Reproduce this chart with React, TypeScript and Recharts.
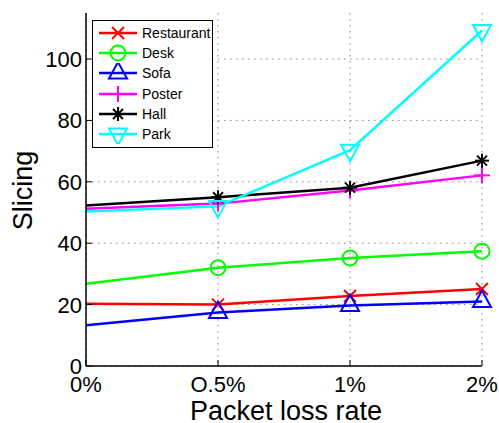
import { LineChart, Line, XAxis, YAxis, CartesianGrid, Legend } from 'recharts';

const lossRates = [0, 1, 2, 3];
const rateLabels = ['0%', 'O.5%', '1%', '2%'];
const restaurant = [20.3, 20, 22.8, 25.1];
const desk = [26.8, 32, 35.2, 37.4];
const sofa = [13.3, 17.4, 19.7, 21];
const poster = [51.2, 52.9, 57.2, 62.1];
const hall = [52.3, 55, 58.1, 66.9];
const park = [50.3, 52, 70.3, 109.3];
const yTicks = [0, 20, 40, 60, 80, 100];

const series = [
  { key: 'Restaurant', values: restaurant, color: '#ff0000', marker: 'x' },
  { key: 'Desk', values: desk, color: '#00ff00', marker: 'o' },
  { key: 'Sofa', values: sofa, color: '#0000ff', marker: '^' },
  { key: 'Poster', values: poster, color: '#ff00ff', marker: '+' },
  { key: 'Hall', values: hall, color: '#000000', marker: '*' },
  { key: 'Park', values: park, color: '#00ffff', marker: 'v' },
];

const data = lossRates.map((x, i) => {
  const row: any = { x };
  series.forEach((s) => (row[s.key] = s.values[i]));
  return row;
});

const FONT = 'Arial, "Liberation Sans", Helvetica, sans-serif';

function Marker({ type, cx, cy, color }: { type: string; cx: number; cy: number; color: string }) {
  const sw = 2;
  switch (type) {
    case 'x':
      return (
        <g stroke={color} strokeWidth={sw}>
          <line x1={cx - 6} y1={cy - 6} x2={cx + 6} y2={cy + 6} />
          <line x1={cx - 6} y1={cy + 6} x2={cx + 6} y2={cy - 6} />
        </g>
      );
    case 'o':
      return <circle cx={cx} cy={cy} r={7.5} fill="none" stroke={color} strokeWidth={sw} />;
    case '^':
      return (
        <polygon
          points={`${cx},${cy - 11} ${cx + 9},${cy + 5.5} ${cx - 9},${cy + 5.5}`}
          fill="none"
          stroke={color}
          strokeWidth={sw}
        />
      );
    case 'v':
      return (
        <polygon
          points={`${cx},${cy + 11} ${cx + 9},${cy - 5.5} ${cx - 9},${cy - 5.5}`}
          fill="none"
          stroke={color}
          strokeWidth={sw}
        />
      );
    case '+':
      return (
        <g stroke={color} strokeWidth={sw}>
          <line x1={cx - 8} y1={cy} x2={cx + 8} y2={cy} />
          <line x1={cx} y1={cy - 8} x2={cx} y2={cy + 8} />
        </g>
      );
    case '*':
    default:
      return (
        <g stroke={color} strokeWidth={sw}>
          <line x1={cx - 7} y1={cy} x2={cx + 7} y2={cy} />
          <line x1={cx} y1={cy - 7} x2={cx} y2={cy + 7} />
          <line x1={cx - 5} y1={cy - 5} x2={cx + 5} y2={cy + 5} />
          <line x1={cx - 5} y1={cy + 5} x2={cx + 5} y2={cy - 5} />
        </g>
      );
  }
}

const makeDot = (type: string, color: string) => (props: any) => {
  const { cx, cy, index } = props;
  if (index === 0 || cx == null || cy == null) return <g key={`d-${index}`} />;
  return (
    <g key={`d-${index}`}>
      <Marker type={type} cx={cx} cy={cy} color={color} />
    </g>
  );
};

const BottomTick = (props: any) => {
  const { x, y, payload } = props;
  return (
    <g>
      <line x1={x} y1={y} x2={x} y2={y - 6} stroke="#000" strokeWidth={1} />
      <text x={x} y={y + 26} textAnchor="middle" fontSize={22} fontFamily={FONT} fill="#000">
        {rateLabels[payload.index ?? lossRates.indexOf(payload.value)]}
      </text>
    </g>
  );
};

const TopTick = (props: any) => {
  const { x, y } = props;
  return <line x1={x} y1={y} x2={x} y2={y + 6} stroke="#000" strokeWidth={1} />;
};

const LeftTick = (props: any) => {
  const { x, y, payload } = props;
  return (
    <g>
      <line x1={x + 4} y1={y} x2={x + 10} y2={y} stroke="#000" strokeWidth={1} />
      <text x={x} y={y} dy={8} textAnchor="end" fontSize={22} fontFamily={FONT} fill="#000">
        {payload.value}
      </text>
    </g>
  );
};

const RightTick = (props: any) => {
  const { x, y } = props;
  return <line x1={x} y1={y} x2={x - 6} y2={y} stroke="#000" strokeWidth={1} />;
};

const LegendBox = () => (
  <div
    style={{
      width: 119,
      height: 124,
      border: '1.5px solid #000',
      background: '#fff',
      paddingTop: 2,
      boxSizing: 'content-box',
      fontFamily: FONT,
    }}
  >
    {series.map((s) => (
      <div key={s.key} style={{ height: 20.2, display: 'flex', alignItems: 'center' }}>
        <svg width={48} height={20} style={{ flex: 'none' }}>
          <line x1={6} y1={10} x2={44} y2={10} stroke={s.color} strokeWidth={2.5} />
          <Marker type={s.marker} cx={25} cy={10} color={s.color} />
        </svg>
        <span style={{ fontSize: 14, color: '#000', marginLeft: 1 }}>{s.key}</span>
      </div>
    ))}
  </div>
);

export default function App() {
  return (
    <div style={{ position: 'absolute', left: 0, top: 0, background: '#fff' }}>
      <LineChart width={499} height={423} data={data} margin={{ top: 13, right: 17, left: 0, bottom: 0 }}>
        <CartesianGrid stroke="#888" strokeDasharray="1.5 4.5" horizontalValues={yTicks} verticalValues={lossRates} />
        <XAxis
          dataKey="x"
          type="number"
          domain={[0, 3]}
          ticks={lossRates}
          height={57}
          tickSize={0}
          tickMargin={0}
          axisLine={{ stroke: '#000', strokeWidth: 1.5 }}
          tickLine={false}
          tick={<BottomTick />}
          interval={0}
          label={(p: any) => {
            const vb = p.viewBox;
            return (
              <text x={vb.x + vb.width / 2 + 2} y={vb.y + 54} textAnchor="middle" fontSize={27} fontFamily={FONT} fill="#000">
                Packet loss rate
              </text>
            );
          }}
        />
        <XAxis
          xAxisId="top"
          orientation="top"
          dataKey="x"
          type="number"
          domain={[0, 3]}
          ticks={lossRates}
          height={0}
          tickSize={0}
          tickMargin={0}
          axisLine={{ stroke: '#000', strokeWidth: 1.5 }}
          tickLine={false}
          tick={<TopTick />}
          interval={0}
        />
        <YAxis
          type="number"
          domain={[0, 115]}
          ticks={yTicks}
          width={86}
          tickSize={0}
          tickMargin={4}
          axisLine={{ stroke: '#000', strokeWidth: 1.5 }}
          tickLine={false}
          tick={<LeftTick />}
          interval={0}
          label={(p: any) => {
            const vb = p.viewBox;
            const cy = vb.y + vb.height / 2 + 1;
            return (
              <text x={32} y={cy} transform={`rotate(-90 32 ${cy})`} textAnchor="middle" fontSize={27} fontFamily={FONT} fill="#000">
                Slicing
              </text>
            );
          }}
        />
        <YAxis
          yAxisId="right"
          orientation="right"
          type="number"
          domain={[0, 115]}
          ticks={yTicks}
          width={0}
          tickSize={0}
          tickMargin={0}
          axisLine={{ stroke: '#000', strokeWidth: 1.5 }}
          tickLine={false}
          tick={<RightTick />}
          interval={0}
        />
        {series.map((s) => (
          <Line
            key={s.key}
            dataKey={s.key}
            type="linear"
            stroke={s.color}
            strokeWidth={2.5}
            dot={makeDot(s.marker, s.color)}
            activeDot={false}
            isAnimationActive={false}
          />
        ))}
        <Legend
          layout="horizontal"
          verticalAlign="middle"
          align="center"
          content={<LegendBox />}
          wrapperStyle={{ position: 'absolute', left: 92, top: 20, width: 122, height: 128 }}
        />
      </LineChart>
    </div>
  );
}
